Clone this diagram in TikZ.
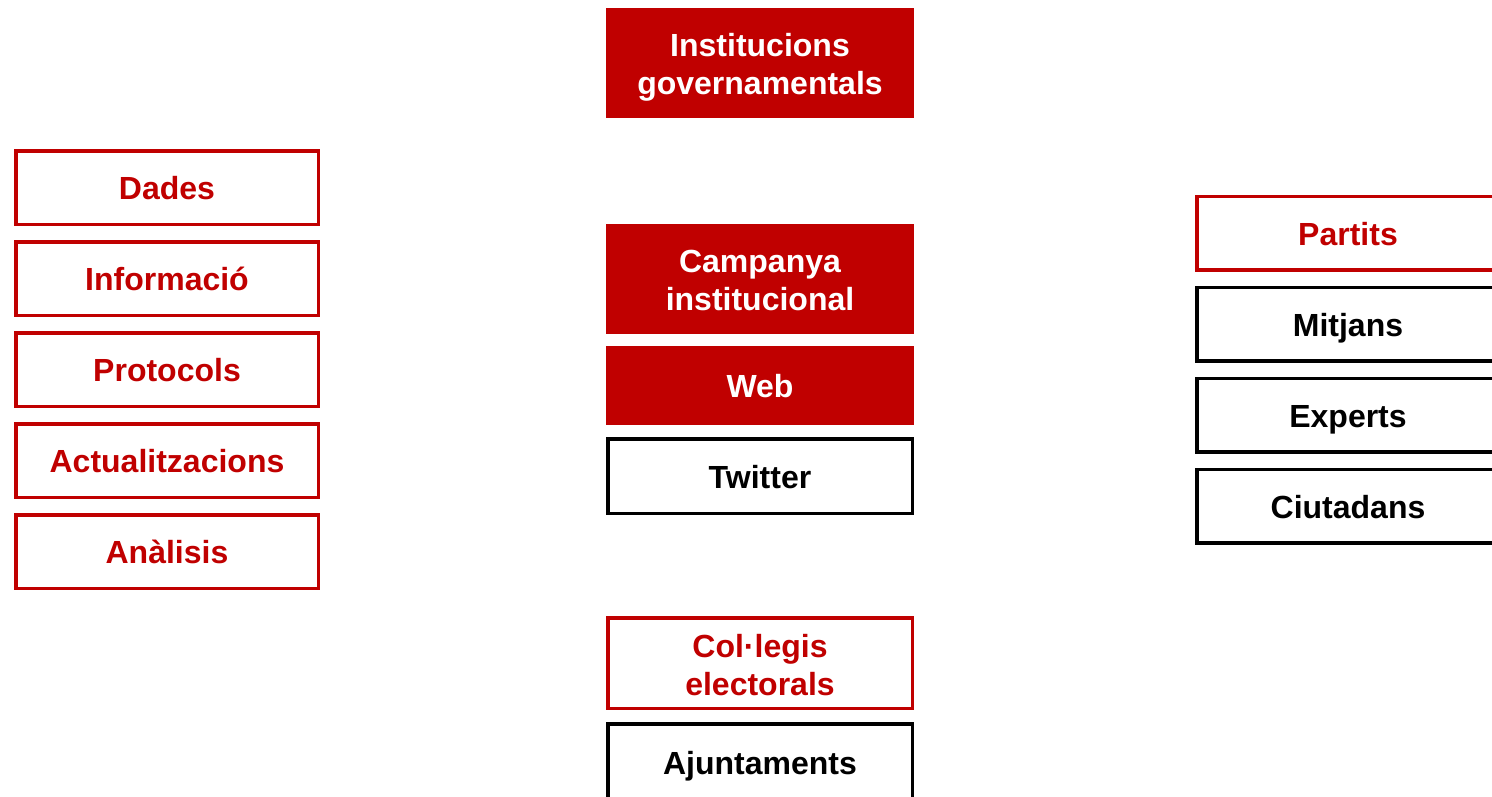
\documentclass[tikz,border=0pt]{standalone}
\usepackage{fontspec}
\setmainfont{Liberation Sans}
\definecolor{cred}{HTML}{C00000}
\tikzset{
  base/.style={rectangle, inner sep=0pt, align=center, font=\fontsize{32}{38}\selectfont\bfseries, text height=28pt, text depth=4pt},
  twoline/.style={text height=#1},
  fillbox/.style={base, fill=cred, text=white, minimum width=308pt},
  redbox/.style={base, draw=cred, line width=3.5pt, text=cred, minimum width=302.5pt, minimum height=73.5pt},
  blackbox/.style={base, draw=black, line width=3.5pt, text=black, minimum width=302.5pt, minimum height=73.5pt}
}
\begin{document}
\begin{tikzpicture}[x=1pt,y=-1pt]
\useasboundingbox (0,0) rectangle (1492,796);
\clip (0,0) rectangle (1492,796);
% left column
\node[redbox] (dades) at (167,187.5) {Dades};
\node[redbox] (info) at (167,278.5) {Informació};
\node[redbox] (prot) at (167,369.5) {Protocols};
\node[redbox] (act) at (167,460.5) {Actualitzacions};
\node[redbox] (anal) at (167,551.5) {Anàlisis};
% centre column
\node[fillbox, minimum height=110pt, twoline=66pt] (inst) at (760,63) {Institucions\\governamentals};
\node[fillbox, minimum height=110pt, twoline=66pt] (camp) at (760,279) {Campanya\\institucional};
\node[fillbox, minimum height=79pt] (web) at (760,385.5) {Web};
\node[blackbox, minimum width=304.5pt, minimum height=74.5pt] (tw) at (760,476) {Twitter};
\node[redbox, minimum width=304.5pt, minimum height=90.5pt, twoline=68pt] (col) at (760,663) {Col·legis\\electorals};
\node[blackbox, minimum width=304.5pt, minimum height=76pt] (ajun) at (760,762) {Ajuntaments};
% right column
\node[redbox] (part) at (1348,233) {Partits};
\node[blackbox] (mitj) at (1348,324) {Mitjans};
\node[blackbox] (exp) at (1348,415) {Experts};
\node[blackbox] (ciut) at (1348,506) {Ciutadans};
\end{tikzpicture}
\end{document}
